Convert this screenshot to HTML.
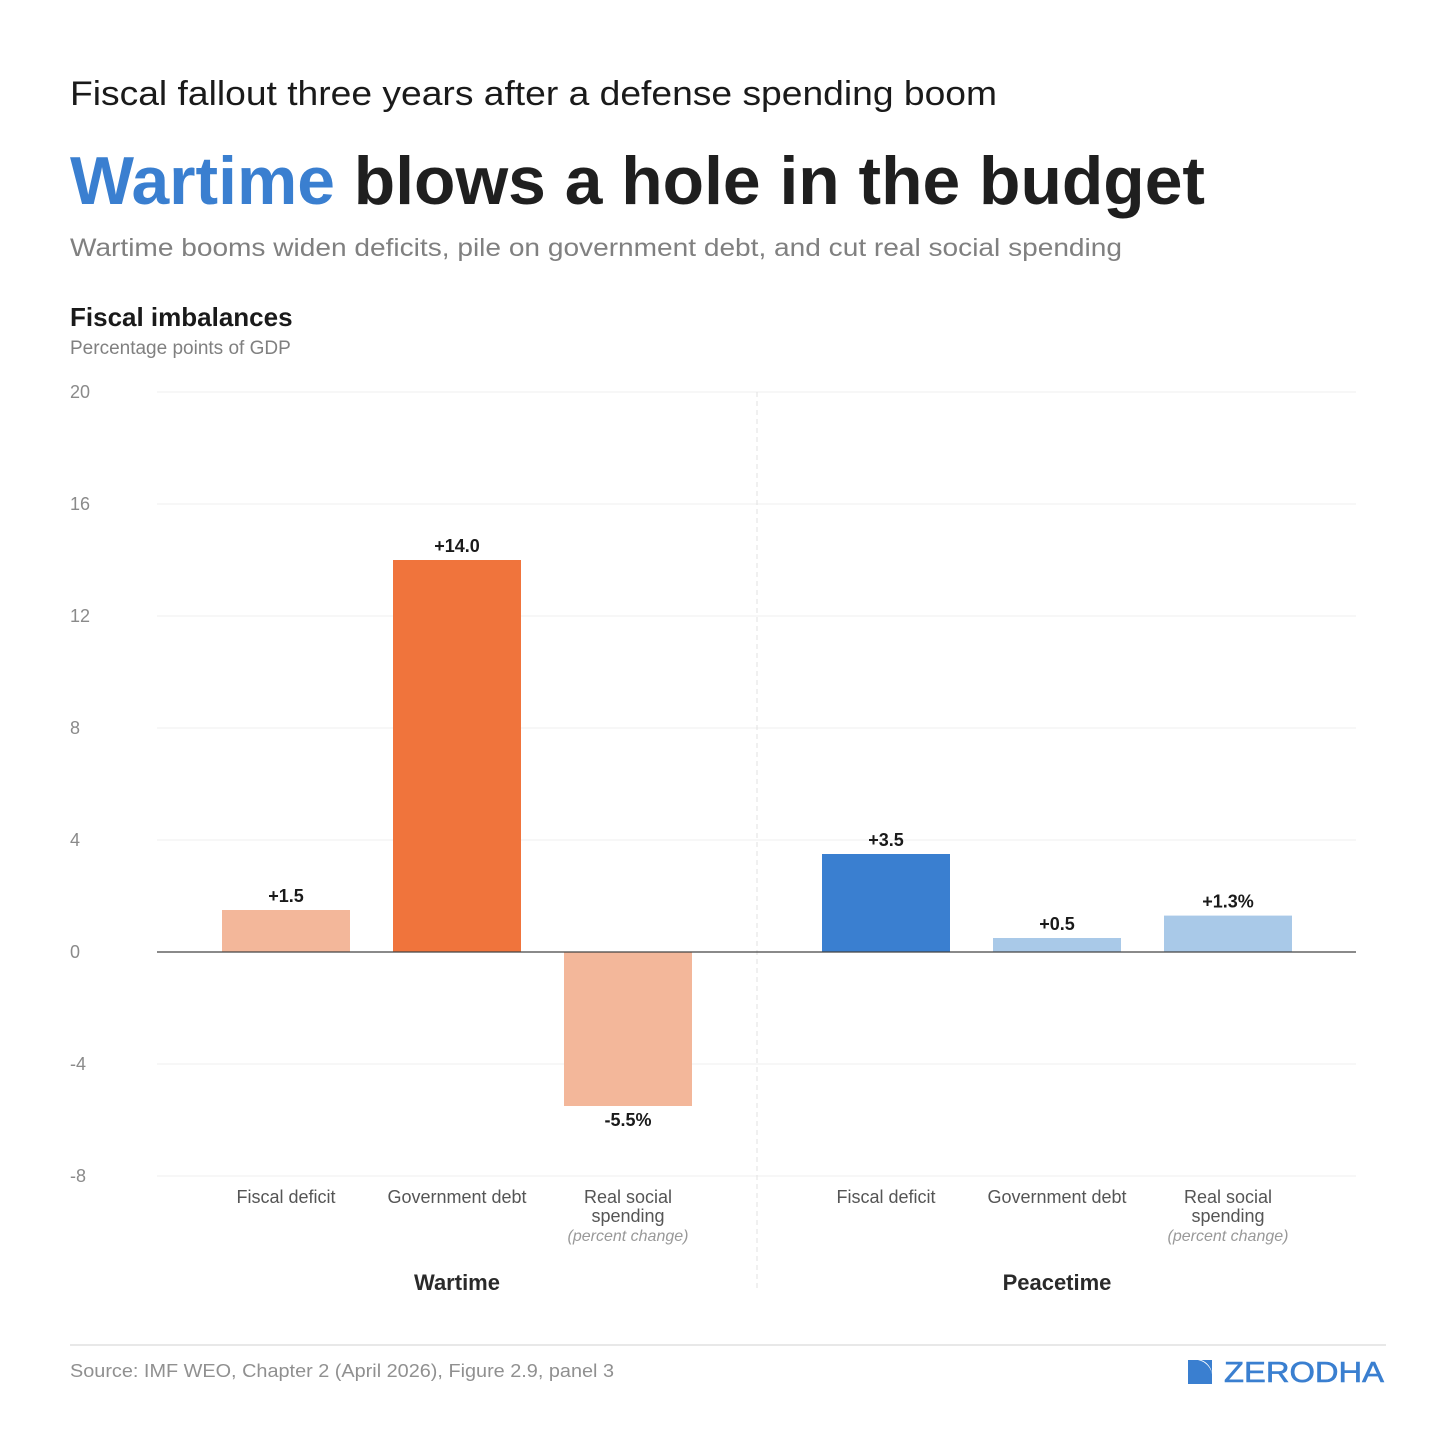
<!DOCTYPE html>
<html><head><meta charset="utf-8"><style>
html,body{margin:0;padding:0;background:#fff}
svg{display:block;font-family:"Liberation Sans",sans-serif}
</style></head><body>
<svg id="chart" width="1456" height="1456" viewBox="0 0 1456 1456">
<text x="70" y="105" font-size="34" fill="#1a1a1a" textLength="927" lengthAdjust="spacingAndGlyphs">Fiscal fallout three years after a defense spending boom</text>
<text x="70" y="204" font-size="68" font-weight="bold" fill="#1f1f1f" textLength="1135" lengthAdjust="spacingAndGlyphs"><tspan fill="#3a7fd0">Wartime</tspan> blows a hole in the budget</text>
<text x="70" y="256" font-size="25" fill="#808080" textLength="1052" lengthAdjust="spacingAndGlyphs">Wartime booms widen deficits, pile on government debt, and cut real social spending</text>
<text x="70" y="326" font-size="26" font-weight="bold" fill="#1a1a1a">Fiscal imbalances</text>
<text x="70" y="354" font-size="19" fill="#808080">Percentage points of GDP</text>
<g id="grid"></g>
<line x1="757" y1="392" x2="757" y2="1290" stroke="#e2e2e2" stroke-dasharray="5,4"/>
<g id="bars"></g>
<line x1="157" y1="952" x2="1356" y2="952" stroke="#444" stroke-width="1.3"/>
<g id="labels"></g>
<line x1="70" y1="1345" x2="1386" y2="1345" stroke="#e0e0e0" stroke-width="1.5"/>
<text x="70" y="1377" font-size="18" fill="#909090" textLength="544" lengthAdjust="spacingAndGlyphs">Source: IMF WEO, Chapter 2 (April 2026), Figure 2.9, panel 3</text>
<g>
<path d="M1188 1360 h10 a18 18 0 0 1 14 14 v10 h-24z" fill="#3a7fd0"/>
<path d="M1201 1360 h11 v14 a16 16 0 0 0 -11 -14z" fill="#3a7fd0"/>
<text x="1224" y="1382" font-size="29" fill="#3a7fd0" stroke="#3a7fd0" stroke-width="0.6" textLength="160" lengthAdjust="spacingAndGlyphs">ZERODHA</text>
</g>
</svg>
<script>
const ticks=[20,16,12,8,4,0,-4,-8];
const categories=["Fiscal deficit","Government debt","Real social spending"];
const groups=["Wartime","Peacetime"];
const wartimeValues=[1.5,14.0,-5.5];
const peacetimeValues=[3.5,0.5,1.3];
const valueLabels=[["+1.5","+14.0","-5.5%"],["+3.5","+0.5","+1.3%"]];
const colors=[["#f3b79a","#f0743c","#f3b79a"],["#3a7fd0","#a9c9e8","#a9c9e8"]];
const NS="http://www.w3.org/2000/svg";
const y=v=>952-v*28;
const xCenter=(g,i)=>(g===0?286:886)+i*171;
function mk(tag,attrs,parent,text){const e=document.createElementNS(NS,tag);for(const k in attrs)e.setAttribute(k,attrs[k]);if(text!==undefined)e.textContent=text;parent.appendChild(e);return e;}
const grid=document.getElementById('grid'),bars=document.getElementById('bars'),labels=document.getElementById('labels');
ticks.forEach(t=>{
 const l=mk('line',{x1:157,x2:1356,y1:y(t),y2:y(t),stroke:'#efefef','stroke-width':1},grid);
 
 
 const tx=mk('text',{x:70,y:y(t)+6,'font-size':18,fill:'#8a8a8a'},grid,String(t));
 
 
});
[wartimeValues,peacetimeValues].forEach((vals,g)=>{
 vals.forEach((v,i)=>{
  const cx=xCenter(g,i);
  const top=Math.min(y(v),y(0)),h=Math.abs(y(v)-y(0));
  const r=mk('rect',{x:cx-64,y:top,width:128,height:h,fill:colors[g][i]},bars);
  
  
  const ly=v>=0?y(v)-8:y(v)+20;
  const t=mk('text',{x:cx,y:ly,'font-size':18,'font-weight':'bold','text-anchor':'middle',fill:'#1a1a1a'},labels,valueLabels[g][i]);
  
  
  const c=mk('text',{'font-size':18,'text-anchor':'middle',fill:'#555'},labels);
  
  
  if(i===2){
   mk('tspan',{x:cx,y:1203},c,"Real social");
   mk('tspan',{x:cx,y:1222},c,"spending");
   mk('tspan',{x:cx,y:1241,'font-style':'italic','font-size':16,fill:'#999'},c,"(percent change)");
  } else { mk('tspan',{x:cx,y:1203},c,categories[i]); }
 });
 const gl=mk('text',{x:xCenter(g,1),y:1290,'font-size':22,'font-weight':'bold','text-anchor':'middle',fill:'#2a2a2a'},labels,groups[g]);
 
 
});
</script>
</body></html>
